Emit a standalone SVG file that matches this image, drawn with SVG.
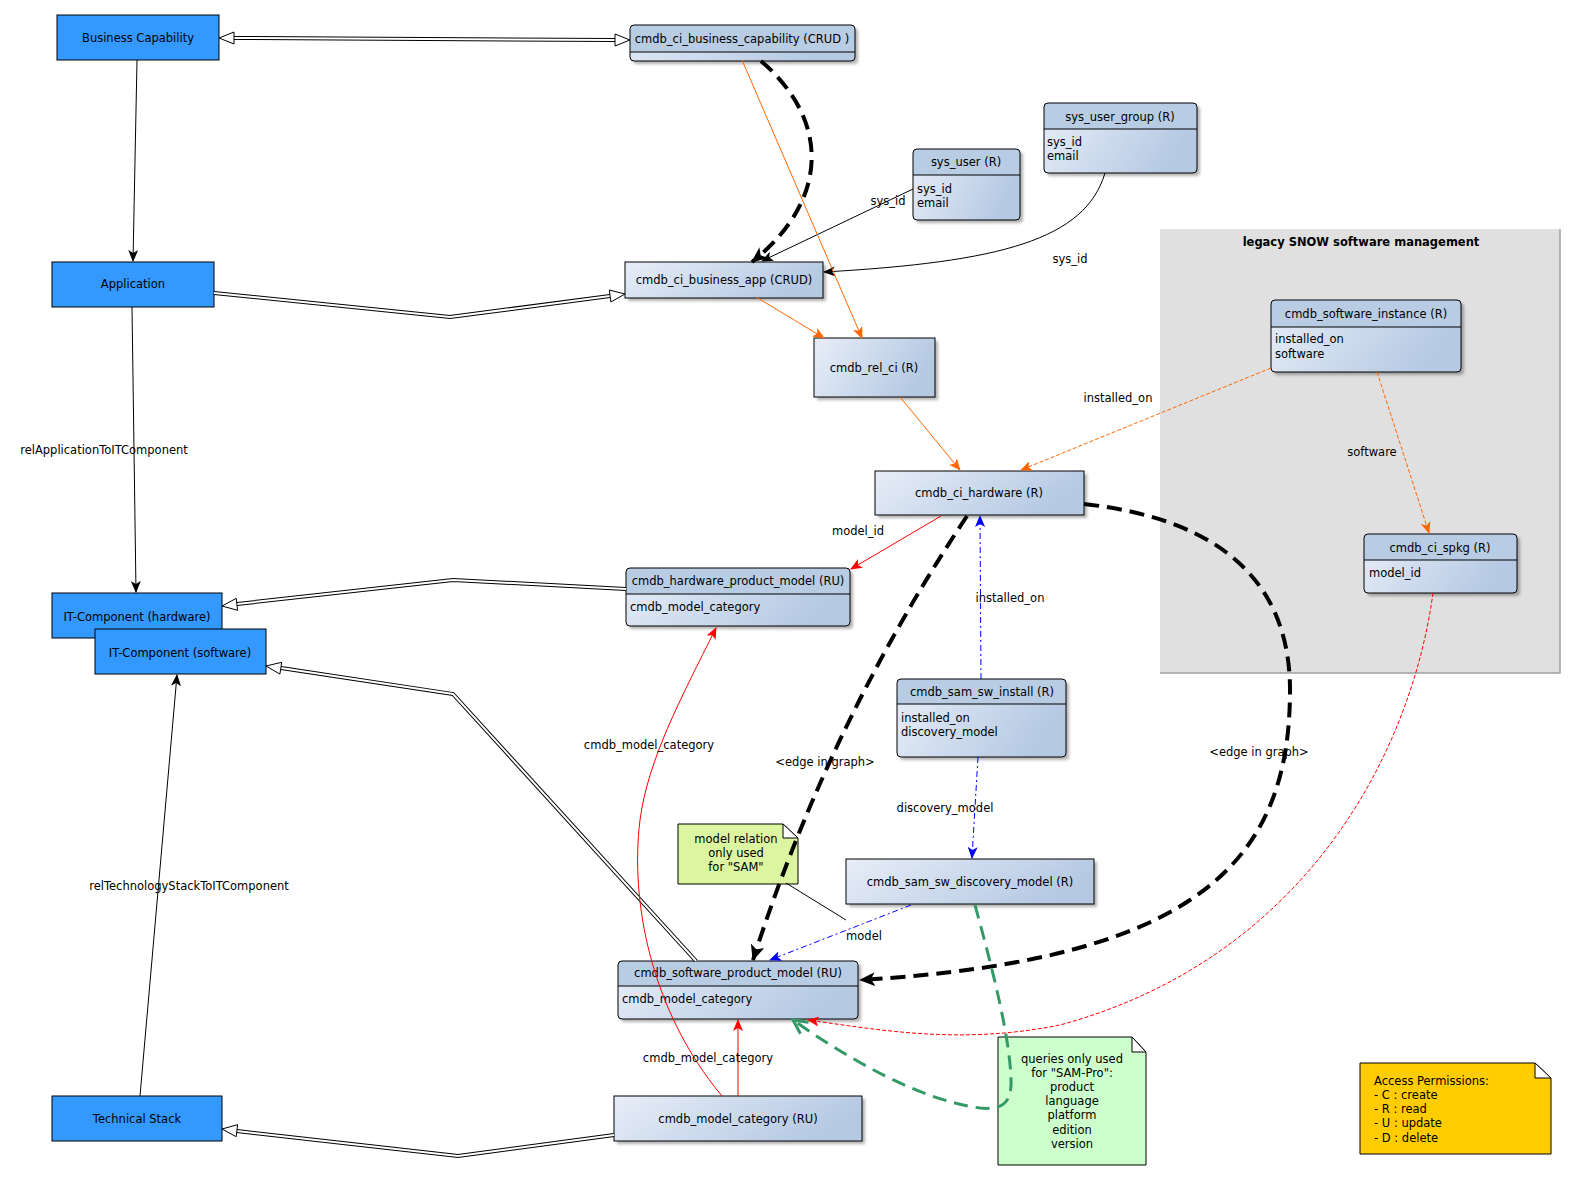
<svg xmlns="http://www.w3.org/2000/svg" width="1578" height="1182" viewBox="0 0 1578 1182">
<defs>
<style>
text{font-family:"DejaVu Sans","Liberation Sans",sans-serif;font-size:11.5px;fill:#000}
.c{text-anchor:middle}
.b{font-weight:bold}
.blue{fill:#3399ff;stroke:#000;stroke-width:1}
.body{fill:url(#g);filter:url(#sh)}
.hdr{fill:#b8cce4}
.ol{fill:none;stroke:#000;stroke-width:1}
.dlo{fill:none;stroke:#000;stroke-width:4;stroke-linejoin:miter}
.dli{fill:none;stroke:#fff;stroke-width:2;stroke-linejoin:miter}
.tri{fill:#fff;stroke:#000;stroke-width:1}
.k{fill:none;stroke:#000;stroke-width:1}
.o{fill:none;stroke:#ff6600;stroke-width:1}
.od{fill:none;stroke:#ff6600;stroke-width:1;stroke-dasharray:4,2}
.r{fill:none;stroke:#ff0000;stroke-width:1}
.rd{fill:none;stroke:#ff0000;stroke-width:1;stroke-dasharray:4,2}
.bd{fill:none;stroke:#0000ff;stroke-width:1;stroke-dasharray:6,3,2,3}
.kd{fill:none;stroke:#000;stroke-width:4;stroke-dasharray:15,8}
.gd{fill:none;stroke:#339966;stroke-width:3;stroke-dasharray:14,8}
.fold{fill:#fff;stroke:#000;stroke-width:1}
</style>
<linearGradient id="g" x1="0" y1="0" x2="1" y2="0.3">
<stop offset="0" stop-color="#e8eef8"/>
<stop offset="1" stop-color="#b5c9e3"/>
</linearGradient>
<filter id="sh" x="-10%" y="-10%" width="130%" height="140%">
<feDropShadow dx="3" dy="3" stdDeviation="1.5" flood-color="#000" flood-opacity="0.3"/>
</filter>
<marker id="aK" markerUnits="userSpaceOnUse" markerWidth="12" markerHeight="10" refX="11" refY="5" orient="auto"><path d="M0,0 L12,5 L0,10 L3,5 z" fill="#000"/></marker>
<marker id="aO" markerUnits="userSpaceOnUse" markerWidth="12" markerHeight="10" refX="11" refY="5" orient="auto"><path d="M0,0 L12,5 L0,10 L3,5 z" fill="#ff6600"/></marker>
<marker id="aR" markerUnits="userSpaceOnUse" markerWidth="12" markerHeight="10" refX="11" refY="5" orient="auto"><path d="M0,0 L12,5 L0,10 L3,5 z" fill="#ff0000"/></marker>
<marker id="aB" markerUnits="userSpaceOnUse" markerWidth="12" markerHeight="10" refX="11" refY="5" orient="auto"><path d="M0,0 L12,5 L0,10 L3,5 z" fill="#0000ff"/></marker>
<marker id="aKB" markerUnits="userSpaceOnUse" markerWidth="16" markerHeight="14" refX="15" refY="7" orient="auto"><path d="M0,0 L16,7 L0,14 L4,7 z" fill="#000"/></marker>
<marker id="aG" markerUnits="userSpaceOnUse" markerWidth="20" markerHeight="20" refX="15" refY="8" orient="auto" overflow="visible"><path d="M1,1 L15,8 L1,15" fill="none" stroke="#339966" stroke-width="3"/></marker>
</defs>

<g id="group-legacy">
<rect x="1160" y="229" width="400" height="444" fill="#e0e0e0"/>
<path d="M1560,229 L1560,673 L1160,673" fill="none" stroke="#a0a0a0" stroke-width="1.5"/>
<text class="c b" x="1361" y="246">legacy SNOW software management</text>
</g>

<g id="nodes">
<g id="n-business-capability"><rect class="blue" x="57" y="15" width="162" height="45"/><text class="c" x="138" y="42">Business Capability</text></g>
<g id="n-application"><rect class="blue" x="52" y="262" width="162" height="45"/><text class="c" x="133" y="288">Application</text></g>
<g id="n-it-hw"><rect class="blue" x="52" y="593" width="170" height="45"/><text class="c" x="137" y="621">IT-Component (hardware)</text></g>
<g id="n-it-sw"><rect class="blue" x="95" y="629" width="171" height="45"/><text class="c" x="180" y="657">IT-Component (software)</text></g>
<g id="n-tech-stack"><rect class="blue" x="52" y="1096" width="170" height="45"/><text class="c" x="137" y="1123">Technical Stack</text></g>

<g id="n-ci-business-capability">
<rect class="body" x="630" y="25" width="225" height="36" rx="4"/>
<path class="hdr" d="M630,52 L630,29 Q630,25 634,25 L851,25 Q855,25 855,29 L855,52 Z"/>
<rect class="ol" x="630" y="25" width="225" height="36" rx="4"/>
<line class="ol" x1="630" y1="52" x2="855" y2="52"/>
<text class="c" x="742" y="43">cmdb_ci_business_capability (CRUD )</text>
</g>

<g id="n-sys-user">
<rect class="body" x="913" y="149" width="107" height="71" rx="4"/>
<path class="hdr" d="M913,175 L913,153 Q913,149 917,149 L1016,149 Q1020,149 1020,153 L1020,175 Z"/>
<rect class="ol" x="913" y="149" width="107" height="71" rx="4"/>
<line class="ol" x1="913" y1="175" x2="1020" y2="175"/>
<text class="c" x="966" y="166">sys_user (R)</text>
<text x="917" y="193">sys_id</text><text x="917" y="207">email</text>
</g>

<g id="n-sys-user-group">
<rect class="body" x="1044" y="103" width="153" height="70" rx="4"/>
<path class="hdr" d="M1044,129 L1044,107 Q1044,103 1048,103 L1193,103 Q1197,103 1197,107 L1197,129 Z"/>
<rect class="ol" x="1044" y="103" width="153" height="70" rx="4"/>
<line class="ol" x1="1044" y1="129" x2="1197" y2="129"/>
<text class="c" x="1120" y="121">sys_user_group (R)</text>
<text x="1047" y="146">sys_id</text><text x="1047" y="160">email</text>
</g>

<g id="n-business-app">
<rect class="body" x="625" y="262" width="198" height="36"/>
<rect class="ol" x="625" y="262" width="198" height="36"/>
<text class="c" x="724" y="284">cmdb_ci_business_app (CRUD)</text>
</g>

<g id="n-rel-ci">
<rect class="body" x="814" y="338" width="121" height="59"/>
<rect class="ol" x="814" y="338" width="121" height="59"/>
<text class="c" x="874" y="372">cmdb_rel_ci (R)</text>
</g>

<g id="n-ci-hardware">
<rect class="body" x="875" y="471" width="209" height="44"/>
<rect class="ol" x="875" y="471" width="209" height="44"/>
<text class="c" x="979" y="497">cmdb_ci_hardware (R)</text>
</g>

<g id="n-hw-product-model">
<rect class="body" x="626" y="568" width="224" height="58" rx="4"/>
<path class="hdr" d="M626,594 L626,572 Q626,568 630,568 L846,568 Q850,568 850,572 L850,594 Z"/>
<rect class="ol" x="626" y="568" width="224" height="58" rx="4"/>
<line class="ol" x1="626" y1="594" x2="850" y2="594"/>
<text class="c" x="738" y="585">cmdb_hardware_product_model (RU)</text>
<text x="630" y="611">cmdb_model_category</text>
</g>

<g id="n-sam-sw-install">
<rect class="body" x="897" y="679" width="169" height="78" rx="4"/>
<path class="hdr" d="M897,704 L897,683 Q897,679 901,679 L1062,679 Q1066,679 1066,683 L1066,704 Z"/>
<rect class="ol" x="897" y="679" width="169" height="78" rx="4"/>
<line class="ol" x1="897" y1="704" x2="1066" y2="704"/>
<text class="c" x="982" y="696">cmdb_sam_sw_install (R)</text>
<text x="901" y="722">installed_on</text><text x="901" y="736">discovery_model</text>
</g>

<g id="n-discovery-model">
<rect class="body" x="846" y="859" width="248" height="45"/>
<rect class="ol" x="846" y="859" width="248" height="45"/>
<text class="c" x="970" y="886">cmdb_sam_sw_discovery_model (R)</text>
</g>

<g id="n-software-instance">
<rect class="body" x="1271" y="300" width="190" height="72" rx="4"/>
<path class="hdr" d="M1271,327 L1271,304 Q1271,300 1275,300 L1457,300 Q1461,300 1461,304 L1461,327 Z"/>
<rect class="ol" x="1271" y="300" width="190" height="72" rx="4"/>
<line class="ol" x1="1271" y1="327" x2="1461" y2="327"/>
<text class="c" x="1366" y="318">cmdb_software_instance (R)</text>
<text x="1275" y="343">installed_on</text><text x="1275" y="358">software</text>
</g>

<g id="n-spkg">
<rect class="body" x="1364" y="534" width="153" height="59" rx="4"/>
<path class="hdr" d="M1364,560 L1364,538 Q1364,534 1368,534 L1513,534 Q1517,534 1517,538 L1517,560 Z"/>
<rect class="ol" x="1364" y="534" width="153" height="59" rx="4"/>
<line class="ol" x1="1364" y1="560" x2="1517" y2="560"/>
<text class="c" x="1440" y="552">cmdb_ci_spkg (R)</text>
<text x="1369" y="577">model_id</text>
</g>

<g id="n-sw-product-model">
<rect class="body" x="618" y="961" width="240" height="58" rx="4"/>
<path class="hdr" d="M618,986 L618,965 Q618,961 622,961 L854,961 Q858,961 858,965 L858,986 Z"/>
<rect class="ol" x="618" y="961" width="240" height="58" rx="4"/>
<line class="ol" x1="618" y1="986" x2="858" y2="986"/>
<text class="c" x="738" y="977">cmdb_software_product_model (RU)</text>
<text x="622" y="1003">cmdb_model_category</text>
</g>

<g id="n-model-category">
<rect class="body" x="614" y="1096" width="248" height="45"/>
<rect class="ol" x="614" y="1096" width="248" height="45"/>
<text class="c" x="738" y="1123">cmdb_model_category (RU)</text>
</g>

<g id="note-sam">
<polygon points="678,824 783,824 798,838 798,884 678,884" fill="#dcf5a0" stroke="#000" stroke-width="1"/>
<polygon class="fold" points="783,824 783,838 798,838"/>
<text class="c" x="736" y="843">model relation</text>
<text class="c" x="736" y="857">only used</text>
<text class="c" x="736" y="871">for "SAM"</text>
</g>

<g id="note-sam-pro">
<polygon points="998,1037 1132,1037 1146,1052 1146,1165 998,1165" fill="#ccffcc" stroke="#000" stroke-width="1"/>
<polygon class="fold" points="1132,1037 1132,1052 1146,1052"/>
<text class="c" x="1072" y="1063">queries only used</text>
<text class="c" x="1072" y="1077">for "SAM-Pro":</text>
<text class="c" x="1072" y="1091">product</text>
<text class="c" x="1072" y="1105">language</text>
<text class="c" x="1072" y="1119">platform</text>
<text class="c" x="1072" y="1134">edition</text>
<text class="c" x="1072" y="1148">version</text>
</g>

<g id="note-access">
<polygon points="1360,1063 1535,1063 1551,1078 1551,1154 1360,1154" fill="#ffcc00" stroke="#000" stroke-width="1"/>
<polygon class="fold" points="1535,1063 1535,1078 1551,1078"/>
<text x="1374" y="1085">Access Permissions:</text>
<text x="1374" y="1099">- C : create</text>
<text x="1374" y="1113">- R : read</text>
<text x="1374" y="1127">- U : update</text>
<text x="1374" y="1142">- D : delete</text>
</g>
</g>

<g id="connectors">
<!-- double-line generalisation arrows -->
<path class="dlo" d="M234,38 L615,40"/><path class="dli" d="M234,38 L615,40"/>
<polygon class="tri" points="219,38 234,32 234,44"/>
<polygon class="tri" points="630,40 615,34 615,46"/>

<path class="dlo" d="M214,293 L450,317 L610,296"/><path class="dli" d="M214,293 L450,317 L610,296"/>
<polygon class="tri" points="625,294 610.9,302 609.3,290"/>

<path class="dlo" d="M626,589 L453,580 L237,604"/><path class="dli" d="M626,589 L453,580 L237,604"/>
<polygon class="tri" points="222,606 237.6,610.3 236.2,598.4"/>

<path class="dlo" d="M696,961 L453,694 L281,668"/><path class="dli" d="M696,961 L453,694 L281,668"/>
<polygon class="tri" points="266,666 279.9,674.1 281.7,662.3"/>

<path class="dlo" d="M614,1135 L458,1156 L237,1131"/><path class="dli" d="M614,1135 L458,1156 L237,1131"/>
<polygon class="tri" points="222,1129 236.2,1136.7 237.6,1124.7"/>

<!-- black -->
<path class="k" d="M137,60 L133,261" marker-end="url(#aK)"/>
<path class="k" d="M132,307 L136,592" marker-end="url(#aK)"/>
<path class="k" d="M140,1096 L177,675" marker-end="url(#aK)"/>
<path class="k" d="M913,189 L762,261" marker-end="url(#aK)"/>
<path class="k" d="M1105,173 C1085,240 1000,262 824,272" marker-end="url(#aK)"/>
<path class="k" d="M786,883 L846,920"/>

<!-- orange -->
<path class="o" d="M742,60 L862,338" marker-end="url(#aO)"/>
<path class="o" d="M756,297 L824,338" marker-end="url(#aO)"/>
<path class="o" d="M900,397 L960,470" marker-end="url(#aO)"/>
<path class="od" d="M1271,368 L1021,470" marker-end="url(#aO)"/>
<path class="od" d="M1377,372 L1429,533" marker-end="url(#aO)"/>

<!-- red -->
<path class="r" d="M941,516 L851,569" marker-end="url(#aR)"/>
<path class="r" d="M738,1096 L738,1020" marker-end="url(#aR)"/>
<path class="r" d="M722,1096 C650,1010 630,900 640,820 C648,760 680,700 716,628" marker-end="url(#aR)"/>
<path class="rd" d="M1433,593 C1410,760 1300,960 1060,1025 C960,1045 880,1030 808,1020" marker-end="url(#aR)"/>

<!-- blue -->
<path class="bd" d="M981,679 L980,516" marker-end="url(#aB)"/>
<path class="bd" d="M978,757 L972,858" marker-end="url(#aB)"/>
<path class="bd" d="M911,905 L770,960" marker-end="url(#aB)"/>

<!-- thick dashed black -->
<path class="kd" d="M761,61 C830,120 830,200 752,262" marker-end="url(#aKB)"/>
<path class="kd" d="M967,516 Q829,723 753,960" marker-end="url(#aKB)"/>
<path class="kd" d="M1084,504 C1230,520 1290,590 1290,690 C1290,860 1200,960 860,980" marker-end="url(#aKB)"/>

<!-- green dashed -->
<path class="gd" d="M975,905 C990,960 1010,1035 1011,1080 C1012,1105 1000,1110 980,1108 C920,1100 850,1060 793,1020" marker-end="url(#aG)"/>
</g>

<g id="edge-labels">
<text class="c" x="104" y="454">relApplicationToITComponent</text>
<text class="c" x="189" y="890">relTechnologyStackToITComponent</text>
<text class="c" x="888" y="205">sys_id</text>
<text class="c" x="1070" y="263">sys_id</text>
<text class="c" x="1118" y="402">installed_on</text>
<text class="c" x="1372" y="456">software</text>
<text class="c" x="858" y="535">model_id</text>
<text class="c" x="1010" y="602">installed_on</text>
<text class="c" x="825" y="766">&lt;edge in graph&gt;</text>
<text class="c" x="1259" y="756">&lt;edge in graph&gt;</text>
<text class="c" x="649" y="749">cmdb_model_category</text>
<text class="c" x="945" y="812">discovery_model</text>
<text class="c" x="864" y="940">model</text>
<text class="c" x="708" y="1062">cmdb_model_category</text>
</g>
</svg>
